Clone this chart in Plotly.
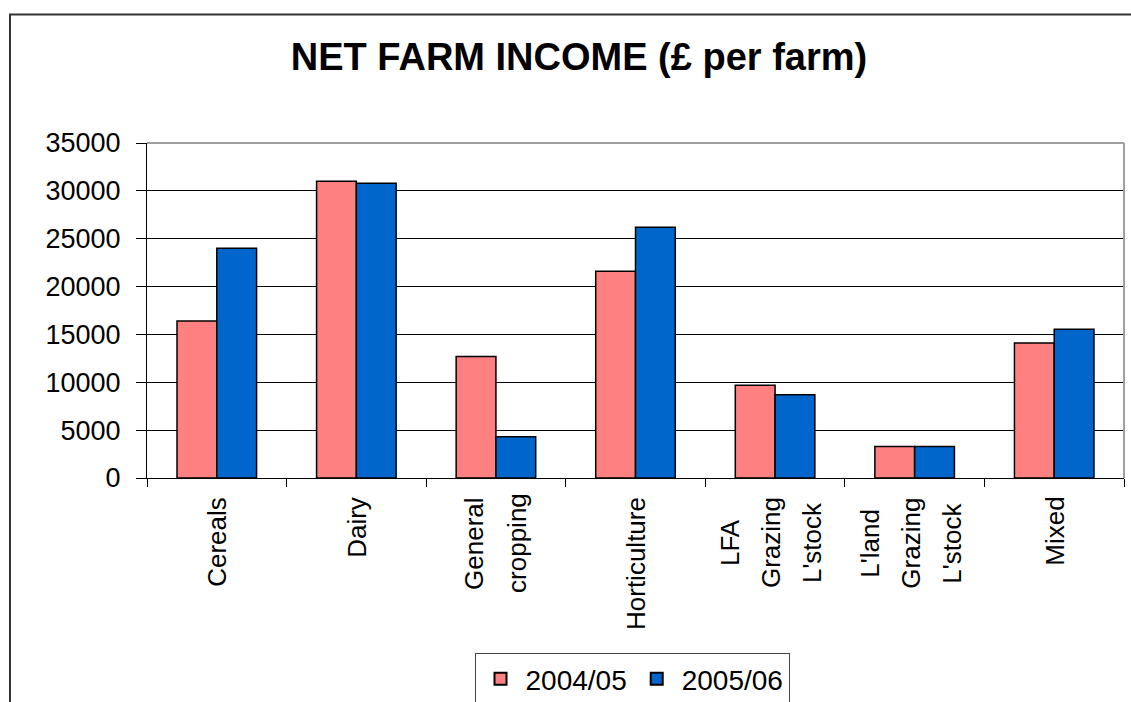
import plotly.graph_objects as go

categories = ["Cereals", "Dairy", "General cropping", "Horticulture",
              "LFA Grazing L'stock", "L'land Grazing L'stock", "Mixed"]
series_names = ["2004/05", "2005/06"]
values_2004_05 = [16400, 31000, 12700, 21600, 9700, 3300, 14100]
values_2005_06 = [24000, 30800, 4300, 26200, 8700, 3300, 15550]
y_ticks = [0, 5000, 10000, 15000, 20000, 25000, 30000, 35000]
y_tick_labels = [str(v) for v in y_ticks]

W, H = 1131, 702
ML, MR, MT, MB = 147, 7, 143, 224
PW, PH = W - ML - MR, H - MT - MB
FONT = "Liberation Sans, Arial, sans-serif"

def px_x(p):
    return (p - ML) / PW

def px_y(p):
    return (H - MB - p) / PH

fig = go.Figure()
fig.add_trace(go.Bar(x=categories, y=values_2004_05, name=series_names[0],
                     marker=dict(color="#FF8080", line=dict(color="#000000", width=1.5))))
fig.add_trace(go.Bar(x=categories, y=values_2005_06, name=series_names[1],
                     marker=dict(color="#0066CC", line=dict(color="#000000", width=1.5))))

fig.update_layout(
    width=W, height=H,
    margin=dict(l=ML, r=MR, t=MT, b=MB, pad=0, autoexpand=False),
    paper_bgcolor="white", plot_bgcolor="white",
    font=dict(family=FONT, color="#000000"),
    barmode="group", bargap=0.43, bargroupgap=0,
    title=dict(text="<b>NET FARM INCOME (£ per farm)</b>",
               x=579 / W, xanchor="center", xref="container",
               y=1 - 57 / H, yanchor="middle", yref="container",
               font=dict(size=38, family=FONT, color="#000000")),
    legend=dict(orientation="h", x=632 / W, xanchor="center", xref="container",
                y=1 - 653 / H, yanchor="top", yref="container",
                bordercolor="#444444", borderwidth=1, bgcolor="white",
                font=dict(size=28, family=FONT), traceorder="normal",
                itemsizing="constant", itemwidth=40),
    xaxis=dict(type="category", tickson="boundaries",
               ticks="outside", ticklen=8, tickcolor="#000000", tickwidth=1,
               showline=True, linecolor="#000000", linewidth=1,
               showgrid=False, showticklabels=False, automargin=False),
    yaxis=dict(range=[0, 35000], tickvals=y_ticks, ticktext=y_tick_labels,
               ticks="outside", ticklen=10, tickcolor="#000000", tickwidth=1,
               showline=True, linecolor="#000000", linewidth=1,
               showgrid=True, gridcolor="#000000", gridwidth=1,
               zeroline=False, tickfont=dict(size=27, family=FONT),
               ticklabelstandoff=10, automargin=False),
)

# category labels, rotated, one text per line so the spacing matches
LINE_OFFSETS = {1: [0], 2: [-22, 21], 3: [-45, -4, 37]}
for cat in categories:
    lines = cat.split(" ")
    n = len(lines)
    for line, dx in zip(lines, LINE_OFFSETS[n]):
        if n == 1:
            yy, ya = px_y(495), "top"
        else:
            yy, ya = px_y(543), "middle"
        fig.add_annotation(x=cat, xref="x", y=yy, yref="paper", text=line,
                           textangle=-90, showarrow=False, xshift=dx,
                           xanchor="center", yanchor=ya,
                           font=dict(size=26, family=FONT, color="#000000"))

# plot area frame (top and right, grey)
fig.add_shape(type="line", xref="paper", yref="paper", x0=0, x1=1, y0=1, y1=1,
              line=dict(color="#A0A0A0", width=2), layer="above")
fig.add_shape(type="line", xref="paper", yref="paper", x0=1, x1=1, y0=0, y1=1,
              line=dict(color="#A0A0A0", width=2), layer="above")
# outer chart border (extends beyond the picture right/bottom)
fig.add_shape(type="rect", xref="paper", yref="paper",
              x0=px_x(10), x1=px_x(W + 20), y0=px_y(H + 20), y1=px_y(14.5),
              line=dict(color="#333333", width=2), fillcolor="rgba(0,0,0,0)",
              layer="above")

fig.write_html("out.html")
